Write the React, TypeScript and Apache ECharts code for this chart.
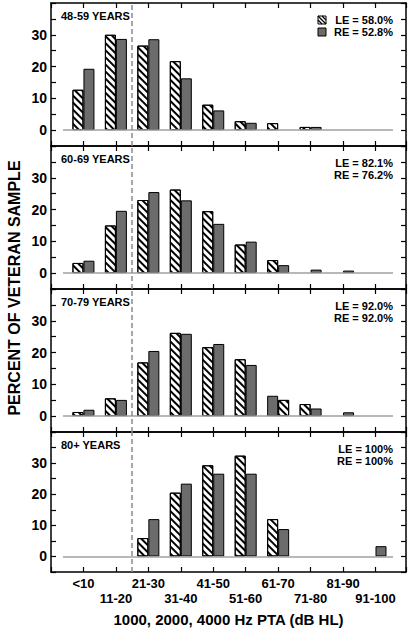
import React, { useEffect, useRef } from 'react';
import * as echarts from 'echarts';

const categories = ['<10', '11-20', '21-30', '31-40', '41-50', '51-60', '61-70', '71-80', '81-90', '91-100'];
const panelLabels = ['48-59 YEARS', '60-69 YEARS', '70-79 YEARS', '80+ YEARS'];
const leTotals = ['LE = 58.0%', 'LE = 82.1%', 'LE = 92.0%', 'LE = 100%'];
const reTotals = ['RE = 52.8%', 'RE = 76.2%', 'RE = 92.0%', 'RE = 100%'];

const le4859 = [12.7, 30.0, 26.6, 21.7, 8.0, 2.8, 2.2, 1.0, 0, 0];
const re4859 = [19.3, 28.7, 28.6, 16.3, 6.2, 2.3, 0, 1.0, 0, 0];
const le6069 = [3.2, 15.0, 23.0, 26.3, 19.5, 9.0, 4.1, 0, 0, 0];
const re6069 = [3.9, 19.6, 25.5, 22.9, 15.5, 9.9, 2.5, 1.1, 0.8, 0];
const le7079 = [1.3, 5.6, 16.9, 26.2, 21.7, 17.9, 6.4, 3.8, 0, 0];
const re7079 = [2.0, 5.1, 20.5, 25.9, 22.7, 16.1, 5.1, 2.4, 1.2, 0];
const le80 = [0, 0, 5.9, 20.5, 29.3, 32.4, 12.0, 0, 0, 0];
const re80 = [0, 0, 12.0, 23.4, 26.6, 26.6, 8.8, 0, 0, 3.3];

const leSeries = [le4859, le6069, le7079, le80];
const reSeries = [re4859, re6069, re7079, re80];
// bars whose fill styles appear swapped in the original figure (panel, category index)
const swappedStyles = [[2, 6]];

const yLabelTicks = [0, 10, 20, 30];
const xTitle = '1000, 2000, 4000 Hz PTA (dB HL)';
const yTitle = 'PERCENT OF VETERAN SAMPLE';

const FONT = '"Liberation Sans", Arial, Helvetica, sans-serif';
const GRAY = '#6c6c6c';

export default function App() {
  const ref = useRef<HTMLDivElement>(null);
  useEffect(() => {
    if (!ref.current) return;
    const chart = echarts.init(ref.current, undefined, { renderer: 'svg' });

    const panelTop = 3;
    const panelH = 143;
    const left = 51;
    const right = 6;
    const xMin = -1;
    const xMax = 9.94;

    const hatch: any = {
      symbol: 'rect',
      symbolSize: 1,
      dashArrayX: [1, 0],
      dashArrayY: [1.5, 2.8],
      rotation: Math.PI / 4,
      color: '#000',
    };

    const grids: any[] = [];
    const xAxes: any[] = [];
    const yAxes: any[] = [];
    const series: any[] = [];
    const graphics: any[] = [];

    const axisLine = { show: true, onZero: false, lineStyle: { color: '#000', width: 1.5 } };
    const tick = { show: true, inside: true, length: 5, lineStyle: { color: '#000', width: 1.2 } };

    for (let p = 0; p < 4; p++) {
      const top = panelTop + panelH * p;
      grids.push({ left, right, top, height: panelH });
      const isLast = p === 3;
      xAxes.push({
        gridIndex: p,
        type: 'value',
        position: 'bottom',
        min: xMin,
        max: xMax,
        interval: 1,
        axisLine,
        axisTick: tick,
        splitLine: { show: false },
        axisLabel: isLast
          ? {
              show: true,
              margin: 4,
              fontFamily: FONT,
              fontWeight: 'bold',
              fontSize: 13,
              lineHeight: 15,
              color: '#000',
              formatter: (v: number) => {
                const k = Math.round(v);
                if (Math.abs(v - k) > 1e-6 || k < 0 || k > 9) return '';
                return k % 2 ? '\n' + categories[k] : categories[k];
              },
            }
          : { show: false },
        name: isLast ? xTitle : '',
        nameLocation: 'middle',
        nameGap: 40,
        nameTextStyle: { fontFamily: FONT, fontWeight: 'bold', fontSize: 15, color: '#000' },
      });
      xAxes.push({
        gridIndex: p,
        type: 'value',
        position: 'top',
        min: xMin,
        max: xMax,
        interval: 1,
        axisLine,
        axisTick: tick,
        splitLine: { show: false },
        axisLabel: { show: false },
      });
      yAxes.push({
        gridIndex: p,
        type: 'value',
        position: 'left',
        min: -5,
        max: 40,
        interval: 5,
        axisLine,
        axisTick: tick,
        splitLine: { show: false },
        axisLabel: {
          show: true,
          margin: 4,
          fontFamily: FONT,
          fontWeight: 'bold',
          fontSize: 14,
          color: '#000',
          formatter: (v: number) => (yLabelTicks.indexOf(v) >= 0 ? String(v) : ''),
        },
      });
      yAxes.push({
        gridIndex: p,
        type: 'value',
        position: 'right',
        min: -5,
        max: 40,
        interval: 5,
        axisLine,
        axisTick: tick,
        splitLine: { show: false },
        axisLabel: { show: false },
      });

      const isSwapped = (k: number) => swappedStyles.some(([sp, sk]) => sp === p && sk === k);
      const leStyle = { color: '#fff', borderColor: '#000', borderWidth: 1, decal: hatch };
      const reStyle = { color: GRAY, borderColor: '#000', borderWidth: 1, decal: 'none' };

      // reference lines: zero baseline and the dashed 20 dB HL boundary
      series.push({
        type: 'scatter',
        xAxisIndex: 2 * p,
        yAxisIndex: 2 * p,
        data: [],
        silent: true,
        markLine: {
          silent: true,
          symbol: 'none',
          label: { show: false },
          data: [
            [
              { coord: [-0.63, 0], lineStyle: { type: 'solid', color: '#a0a0a0', width: 1.5 } },
              { coord: [9.54, 0] },
            ],
            { xAxis: 1.5, lineStyle: { type: [5, 3], color: '#8a8a8a', width: 1.5 } },
          ],
        },
      });

      series.push({
        type: 'bar',
        name: 'LE',
        xAxisIndex: 2 * p,
        yAxisIndex: 2 * p,
        barWidth: 11,
        barGap: '0%',
        z: 3,
        itemStyle: leStyle,
        data: leSeries[p].map((v, k) =>
          v > 0
            ? isSwapped(k)
              ? { value: [k, v], itemStyle: reStyle }
              : [k, v]
            : [k, '-']
        ),
      });
      series.push({
        type: 'bar',
        name: 'RE',
        xAxisIndex: 2 * p,
        yAxisIndex: 2 * p,
        barWidth: 11,
        barGap: '0%',
        z: 3,
        itemStyle: reStyle,
        data: reSeries[p].map((v, k) =>
          v > 0
            ? isSwapped(k)
              ? { value: [k, v], itemStyle: leStyle }
              : [k, v]
            : [k, '-']
        ),
      });

      graphics.push({
        type: 'text',
        left: 61,
        top: top + 7,
        style: { text: panelLabels[p], font: `bold 11px ${FONT}`, fill: '#000' },
      });
      graphics.push({
        type: 'text',
        x: 393,
        y: top + 17,
        style: { text: leTotals[p], font: `bold 11px ${FONT}`, fill: '#000', align: 'right', verticalAlign: 'middle' },
      });
      graphics.push({
        type: 'text',
        x: 393,
        y: top + 29,
        style: { text: reTotals[p], font: `bold 11px ${FONT}`, fill: '#000', align: 'right', verticalAlign: 'middle' },
      });
    }

    // legend icons in the first panel
    const ix = 318;
    const iy = 16;
    const s = 8;
    graphics.push({
      type: 'group',
      children: [
        { type: 'rect', shape: { x: ix, y: iy, width: s, height: s }, style: { fill: '#fff', stroke: '#000', lineWidth: 1 } },
        { type: 'line', shape: { x1: ix, y1: iy, x2: ix + s, y2: iy + s }, style: { stroke: '#000', lineWidth: 1.3 } },
        { type: 'line', shape: { x1: ix + s / 2, y1: iy, x2: ix + s, y2: iy + s / 2 }, style: { stroke: '#000', lineWidth: 1.3 } },
        { type: 'line', shape: { x1: ix, y1: iy + s / 2, x2: ix + s / 2, y2: iy + s }, style: { stroke: '#000', lineWidth: 1.3 } },
        { type: 'rect', shape: { x: ix, y: iy + 12, width: s, height: s }, style: { fill: GRAY, stroke: '#000', lineWidth: 1 } },
      ],
    });

    graphics.push({
      type: 'text',
      x: 14,
      y: 288,
      rotation: Math.PI / 2,
      style: { text: yTitle, font: `bold 16px ${FONT}`, fill: '#000', align: 'center', verticalAlign: 'middle' },
    });

    chart.setOption({
      animation: false,
      backgroundColor: '#fff',
      grid: grids,
      xAxis: xAxes,
      yAxis: yAxes,
      series,
      graphic: graphics,
    });
    return () => chart.dispose();
  }, []);

  return <div ref={ref} style={{ position: 'fixed', left: 0, top: 0, width: 412, height: 628 }} />;
}
